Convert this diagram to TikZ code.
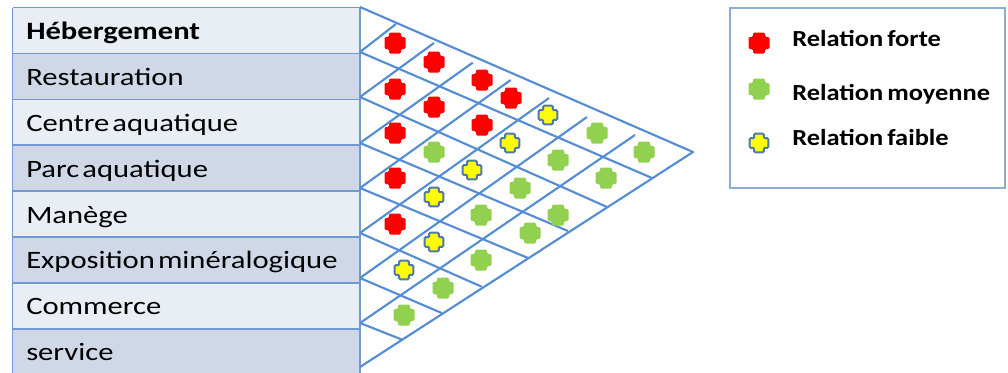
\documentclass[tikz,border=0pt]{standalone}
\usepackage{graphicx}
\usepackage{fontspec}
\setmainfont{Carlito}
\definecolor{gridblue}{RGB}{84,141,212}
\definecolor{tableline}{RGB}{112,152,210}
\definecolor{legendline}{RGB}{140,172,212}
\definecolor{rowlight}{RGB}{233,237,244}
\definecolor{rowdark}{RGB}{208,216,232}
\definecolor{dotred}{RGB}{255,0,0}
\definecolor{dotgreen}{RGB}{146,208,80}
\definecolor{dotyellow}{RGB}{255,255,0}
\definecolor{dotrim}{RGB}{79,119,175}
\newcommand{\rowlab}[1]{\scalebox{1.225}[1]{\spaceskip=0.1em\relax #1}}
\newcommand{\leglab}[1]{\scalebox{1.15}[1]{\spaceskip=0.15em\relax #1}}
\tikzset{
  gridline/.style={draw=gridblue, line width=1.6pt, line join=round},
  tabline/.style={draw=tableline, line width=1.1pt},
  rowtext/.style={anchor=base west, inner sep=0pt, font=\fontsize{18.75pt}{22pt}\selectfont},
  legtext/.style={anchor=base west, inner sep=0pt, font=\fontsize{17.25pt}{20pt}\selectfont\bfseries},
  reddot/.pic={\fill[dotred, rounded corners=1pt] (-6,-10.5) -- (6,-10.5) -- (6,-6) -- (10.5,-6) -- (10.5,6) -- (6,6) -- (6,10.5) -- (-6,10.5) -- (-6,6) -- (-10.5,6) -- (-10.5,-6) -- (-6,-6) -- cycle;},
  greendot/.pic={\fill[dotgreen, rounded corners=1pt] (-6,-10.5) -- (6,-10.5) -- (6,-6) -- (10.5,-6) -- (10.5,6) -- (6,6) -- (6,10.5) -- (-6,10.5) -- (-6,6) -- (-10.5,6) -- (-10.5,-6) -- (-6,-6) -- cycle;},
  yellowdot/.pic={\filldraw[fill=dotyellow, draw=dotrim, line width=1.5pt, rounded corners=0.8pt] (-4.8,-9.3) -- (4.8,-9.3) -- (4.8,-4.8) -- (9.3,-4.8) -- (9.3,4.8) -- (4.8,4.8) -- (4.8,9.3) -- (-4.8,9.3) -- (-4.8,4.8) -- (-9.3,4.8) -- (-9.3,-4.8) -- (-4.8,-4.8) -- cycle;}
}
\begin{document}
\begin{tikzpicture}[x=0.75pt,y=-0.75pt]
\useasboundingbox (0,0) rectangle (1008,372);
\clip (0,0) rectangle (1008,372);
% table rows
\foreach \k in {0,2,4,6}{
  \fill[rowlight] (12.7,{7.5+45.9*\k}) rectangle (360,{7.5+45.9*(\k+1)});
  \fill[rowdark] (12.7,{7.5+45.9*(\k+1)}) rectangle (360,{7.5+45.9*(\k+2)});
}
\foreach \k in {0,...,8}{
  \draw[tabline] (12.7,{7.5+45.9*\k}) -- (360,{7.5+45.9*\k});
}
\draw[tabline] (12.7,7.5) -- (12.7,380);
\draw[tabline] (360,7.5) -- (360,380);
% row labels
\node[rowtext] (t0) at (26,39.4) {\rowlab{\bfseries Hébergement}};
\node[rowtext] (t1) at (26,85.3) {\rowlab{Restauration}};
\node[rowtext] (t2) at (26,131.2) {\rowlab{Centre aquatique}};
\node[rowtext] (t3) at (26,177.1) {\rowlab{Parc aquatique}};
\node[rowtext] (t4) at (26,223.0) {\rowlab{Manège}};
\node[rowtext] (t5) at (26,268.9) {\rowlab{Exposition minéralogique}};
\node[rowtext] (t6) at (26,314.8) {\rowlab{Commerce}};
\node[rowtext] (t7) at (26,360.7) {\rowlab{service}};
% grid points
\coordinate (P0) at (360,7);
\coordinate (P1) at (360,52);
\coordinate (P2) at (360,97);
\coordinate (P3) at (360,143);
\coordinate (P4) at (360,188);
\coordinate (P5) at (360,233);
\coordinate (P6) at (360,278);
\coordinate (P7) at (360,323);
\coordinate (P8) at (360,367);
\coordinate (A) at (693,152);
\coordinate (U1) at (396,24);
\coordinate (U2) at (434,43);
\coordinate (U3) at (472.7,62.7);
\coordinate (U4) at (510.7,80);
\coordinate (U5) at (549,98);
\coordinate (U6) at (587,117);
\coordinate (U7) at (635,135);
\coordinate (D1) at (652,178);
\coordinate (D2) at (607,207);
\coordinate (D3) at (568,231);
\coordinate (D4) at (528,258);
\coordinate (D5) at (481.7,286.7);
\coordinate (D6) at (441.7,313);
\coordinate (D7) at (403,340);
\draw[gridline] (P0) -- (A) -- (P8);
\foreach \i in {1,...,7}{
  \draw[gridline] (P\i) -- (D\i);
  \draw[gridline] (P\i) -- (U\i);
}
% dots
\foreach \x/\y in {395/43,434/62,482/80,511/98,395/89,434/107,482/125,395/133,395/178,395/224}
  \pic at (\x,\y) {reddot};
\foreach \x/\y in {434/152,597/133,644/152,558/160,520/188,606/178,481/215,558/215,530/233,481/260,443/288,404/315}
  \pic at (\x,\y) {greendot};
\foreach \x/\y in {548/115,510/143,472/170,434/197,434/242,404/270}
  \pic at (\x,\y) {yellowdot};
% legend
\draw[draw=legendline, line width=1.5pt] (730,7.5) rectangle (1005,188);
\pic at (759,43) {reddot};
\pic at (759,89) {greendot};
\pic at (759,143) {yellowdot};
\node[legtext] (l1) at (792,46.7) {\leglab{Relation forte}};
\node[legtext] (l2) at (792,100) {\leglab{Relation moyenne}};
\node[legtext] (l3) at (792,145) {\leglab{Relation faible}};
\end{tikzpicture}
\end{document}
